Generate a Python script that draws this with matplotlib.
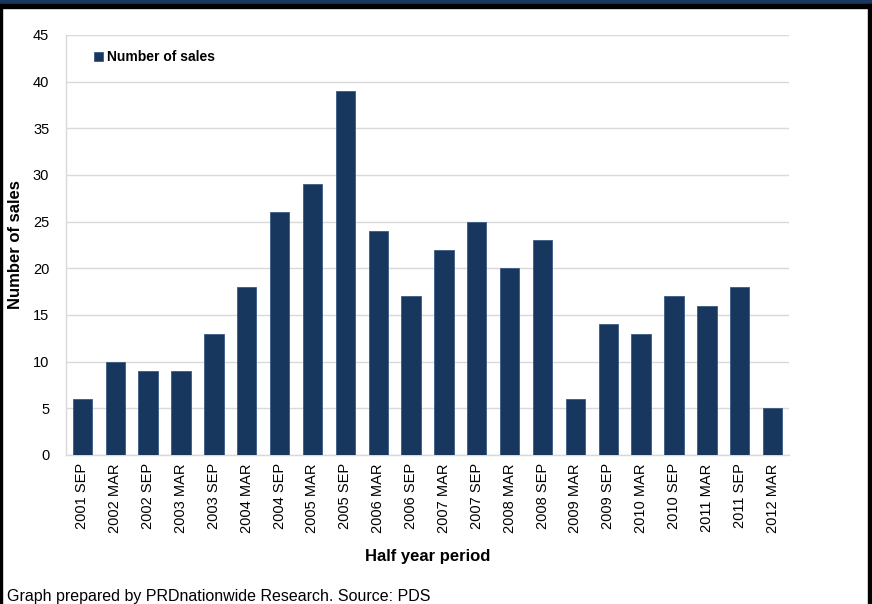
import matplotlib.pyplot as plt
from matplotlib.patches import Rectangle
import numpy as np

plt.rcParams['font.family'] = ['Liberation Sans', 'DejaVu Sans']

periods = ["2001 SEP", "2002 MAR", "2002 SEP", "2003 MAR", "2003 SEP", "2004 MAR",
           "2004 SEP", "2005 MAR", "2005 SEP", "2006 MAR", "2006 SEP", "2007 MAR",
           "2007 SEP", "2008 MAR", "2008 SEP", "2009 MAR", "2009 SEP", "2010 MAR",
           "2010 SEP", "2011 MAR", "2011 SEP", "2012 MAR"]
sales = [6, 10, 9, 9, 13, 18, 26, 29, 39, 24, 17, 22, 25, 20, 23, 6, 14, 13, 17, 16, 18, 5]

W, H = 872, 604
fig = plt.figure(figsize=(W / 100, H / 100), dpi=100)
ax = fig.add_axes([66 / W, 1 - 455 / H, (789 - 66) / W, (455 - 35) / H])

x = np.arange(len(periods))
ax.bar(x, sales, width=0.59, color='#17375e', edgecolor='#3a5a85', linewidth=0.6,
       label="Number of sales", zorder=3)

ax.set_xlim(-0.5, len(periods) - 0.5)
ax.set_ylim(0, 45)
ax.set_yticks(range(0, 46, 5))
ax.set_xticks(x)
ax.set_xticklabels(periods, rotation=90)
ax.tick_params(axis='both', length=0, labelsize=10.5, colors='black')
ax.tick_params(axis='x', pad=6)
ax.tick_params(axis='y', pad=12)
ax.grid(axis='y', color='#d9d9d9', linewidth=1, zorder=0)

for side in ['top', 'right']:
    ax.spines[side].set_visible(False)
for side in ['left', 'bottom']:
    ax.spines[side].set_color('#d9d9d9')
    ax.spines[side].set_linewidth(1)

ax.set_xlabel("Half year period", fontsize=12, fontweight='bold', labelpad=12)
ax.set_ylabel("Number of sales", fontsize=12, fontweight='bold')
ax.yaxis.set_label_coords((23 - 66) / 723, 0.5)

leg = ax.legend(loc='upper left', bbox_to_anchor=(0.022, 0.993), frameon=False,
                prop={'weight': 'bold', 'size': 10}, handlelength=0.6, handleheight=0.6,
                handletextpad=0.3)

# frame decorations
fig.patches.append(Rectangle((0, 1 - 4 / H), 1, 4 / H, transform=fig.transFigure,
                             color='#17375e', zorder=10))
fig.patches.append(Rectangle((0, 1 - 8 / H), 1, 4 / H, transform=fig.transFigure,
                             color='black', zorder=10))
fig.patches.append(Rectangle((0, 0), 2 / W, 1 - 4 / H, transform=fig.transFigure,
                             color='black', zorder=10))
fig.patches.append(Rectangle((1 - 4 / W, 0), 4 / W, 1 - 4 / H, transform=fig.transFigure,
                             color='black', zorder=10))

fig.text(7 / W, 1 - 597 / H, "Graph prepared by PRDnationwide Research. Source: PDS",
         fontsize=11.5, va='center', ha='left')

fig.savefig("out.png", dpi=100)
